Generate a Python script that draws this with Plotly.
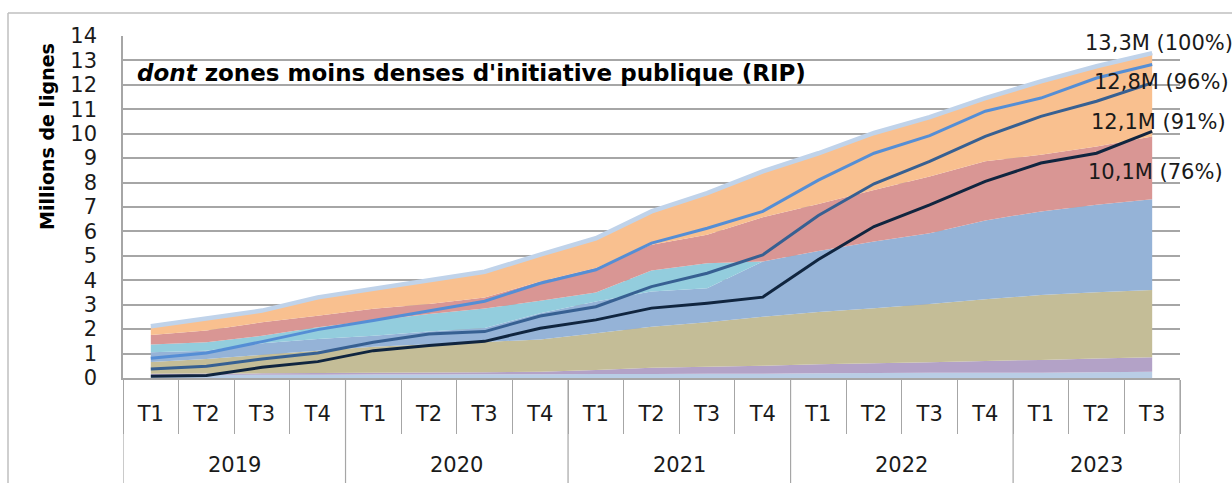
import plotly.graph_objects as go

years = ["2019"] * 4 + ["2020"] * 4 + ["2021"] * 4 + ["2022"] * 4 + ["2023"] * 3
quarters = ["T1", "T2", "T3", "T4"] * 4 + ["T1", "T2", "T3"]

# cumulative boundaries (millions of lines)
top_lightblue = [0.12, 0.12, 0.13, 0.13, 0.14, 0.14, 0.15, 0.15, 0.16, 0.16, 0.17, 0.17, 0.19, 0.20, 0.21, 0.22, 0.22, 0.24, 0.26]
top_purple = [0.17, 0.18, 0.19, 0.20, 0.22, 0.23, 0.24, 0.26, 0.33, 0.42, 0.46, 0.50, 0.56, 0.60, 0.64, 0.70, 0.74, 0.80, 0.85]
top_tan = [0.65, 0.78, 0.95, 1.12, 1.28, 1.38, 1.47, 1.58, 1.83, 2.10, 2.28, 2.51, 2.70, 2.86, 3.03, 3.22, 3.40, 3.51, 3.60]
top_blue = [1.05, 1.12, 1.42, 1.60, 1.73, 1.90, 2.05, 2.65, 3.13, 3.54, 3.67, 4.77, 5.20, 5.59, 5.93, 6.45, 6.82, 7.09, 7.32]
top_teal = [1.37, 1.46, 1.73, 2.08, 2.35, 2.62, 2.85, 3.16, 3.50, 4.40, 4.70, 4.77, 5.20, 5.59, 5.93, 6.45, 6.82, 7.09, 7.32]
top_red = [1.76, 1.94, 2.28, 2.55, 2.83, 3.03, 3.30, 3.95, 4.50, 5.45, 5.86, 6.58, 7.12, 7.70, 8.25, 8.87, 9.14, 9.48, 9.89]
total = [2.12, 2.45, 2.76, 3.30, 3.65, 3.99, 4.35, 5.05, 5.72, 6.82, 7.57, 8.46, 9.20, 10.03, 10.68, 11.46, 12.14, 12.76, 13.30]

line_96 = [0.81, 1.02, 1.49, 1.98, 2.35, 2.76, 3.14, 3.88, 4.43, 5.52, 6.13, 6.82, 8.10, 9.20, 9.92, 10.92, 11.46, 12.28, 12.83]
line_91 = [0.37, 0.48, 0.78, 1.02, 1.46, 1.80, 1.90, 2.54, 2.92, 3.74, 4.29, 5.04, 6.65, 7.95, 8.87, 9.89, 10.71, 11.33, 12.08]
line_76 = [0.07, 0.10, 0.44, 0.67, 1.12, 1.33, 1.50, 2.04, 2.38, 2.86, 3.06, 3.31, 4.85, 6.20, 7.09, 8.05, 8.80, 9.20, 10.10]

end_labels = ["13,3M (100%)", "12,8M (96%)", "12,1M (91%)", "10,1M (76%)"]

FONT = "DejaVu Sans"
GRID = "#a6a6a6"
n = len(quarters)
idx = list(range(n))

layers = [top_lightblue, top_purple, top_tan, top_blue, top_teal, top_red, total]
colors = ["#b9cde5", "#b3a2c7", "#c4bd97", "#95b3d7", "#93cddd", "#d99694", "#f9c08f"]

fig = go.Figure()
prev = [0.0] * n
for cum, col in zip(layers, colors):
    thick = [round(c - p, 4) for c, p in zip(cum, prev)]
    fig.add_trace(go.Scatter(x=idx, y=thick, stackgroup="a", mode="none",
                             fillcolor=col, hoverinfo="skip", showlegend=False))
    prev = cum

fig.add_trace(go.Scatter(x=idx, y=total, mode="lines", line=dict(color="#c0d3ea", width=4.5), showlegend=False))
fig.add_trace(go.Scatter(x=idx, y=line_96, mode="lines", line=dict(color="#558ed5", width=3), showlegend=False))
fig.add_trace(go.Scatter(x=idx, y=line_91, mode="lines", line=dict(color="#376092", width=3), showlegend=False))
fig.add_trace(go.Scatter(x=idx, y=line_76, mode="lines", line=dict(color="#10253f", width=3), showlegend=False))

annots = [
    dict(text="<b><i>dont</i> zones moins denses d'initiative publique (RIP)</b>",
         xref="paper", yref="y", x=0.011, y=12.5, xanchor="left", yanchor="middle",
         showarrow=False, font=dict(family=FONT, size=23, color="black")),
    dict(text="<b>Millions de lignes</b>", xref="paper", yref="paper",
         x=(47 - 123) / 1057, y=(378 - 137) / 342, xanchor="center", yanchor="middle",
         textangle=-90, showarrow=False, font=dict(family=FONT, size=19, color="black")),
]
label_pos = [(1083, 43), (1092, 82), (1089, 122), (1086, 172)]
for txt, (px, py) in zip(end_labels, label_pos):
    annots.append(dict(text=txt, xref="paper", yref="y", x=(px - 123) / 1057,
                       y=(378 - py) / 24.4, xanchor="left", yanchor="middle",
                       showarrow=False, font=dict(family=FONT, size=21, color="#1a1a1a")))

# year groups: label under the quarters, divider lines at group boundaries
groups = []
for i, yv in enumerate(years):
    if not groups or groups[-1][0] != yv:
        groups.append([yv, i, i])
    else:
        groups[-1][2] = i
shapes = [
    dict(type="line", xref="paper", yref="paper", x0=(8 - 123) / 1057, x1=1.06,
         y0=1 + 23 / 342, y1=1 + 23 / 342, line=dict(color="#bfbfbf", width=1.5)),
    dict(type="line", xref="paper", yref="paper", x0=(8 - 123) / 1057, x1=(8 - 123) / 1057,
         y0=1 + 23 / 342, y1=-0.5, line=dict(color="#bfbfbf", width=1.5)),
]
bounds = [g[1] - 0.5 for g in groups] + [groups[-1][2] + 0.5]
for b in bounds:
    shapes.append(dict(type="line", xref="x", yref="paper", x0=b, x1=b, y0=0, y1=-0.5,
                       line=dict(color=GRID, width=1.2)))
for yv, i0, i1 in groups:
    annots.append(dict(text=yv, xref="x", yref="paper", x=(i0 + i1) / 2, y=(378 - 465) / 342,
                       xanchor="center", yanchor="middle", showarrow=False,
                       font=dict(family=FONT, size=21, color="#1a1a1a")))

fig.update_layout(
    width=1232, height=483,
    margin=dict(l=123, r=52, t=36, b=105),
    paper_bgcolor="white", plot_bgcolor="white",
    font=dict(family=FONT, size=21, color="#1a1a1a"),
    annotations=annots,
    shapes=shapes,
)
fig.update_yaxes(range=[0, 14], dtick=1, showgrid=True, gridcolor=GRID, gridwidth=1.5,
                 showline=True, linecolor=GRID, linewidth=1.5, ticks="",
                 ticklabelstandoff=20, zeroline=False, automargin=False,
                 tickfont=dict(family=FONT, size=21, color="#1a1a1a"))
fig.update_xaxes(range=[-0.5, n - 0.5], autorange=False, automargin=False,
                 tickmode="array", tickvals=idx, ticktext=quarters, ticks="",
                 ticklabelstandoff=16,
                 minor=dict(tickmode="array", tickvals=[i - 0.5 for i in range(n + 1)],
                            ticks="outside", ticklen=54, tickcolor=GRID, tickwidth=1.2,
                            showgrid=False),
                 showline=True, linecolor=GRID, linewidth=1.5, showgrid=False, zeroline=False,
                 tickfont=dict(family=FONT, size=21, color="#1a1a1a"))

fig.write_html("out.html", config={"displayModeBar": False},
               post_script="document.body.style.margin='0';")
